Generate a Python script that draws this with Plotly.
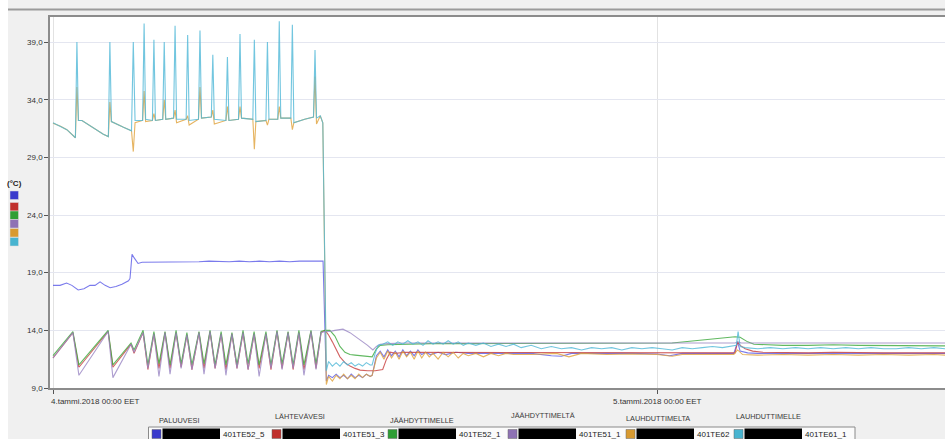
import plotly.graph_objects as go

# ---------------- data (time in hours after 4.tammi.2018 00:00 EET, values in °C) ----------------
x_tick_vals = [0, 24]
x_tick_text = ["4.tammi.2018 00:00 EET", "5.tammi.2018 00:00 EET"]
y_tick_vals = [9, 14, 19, 24, 29, 34, 39]

series_names = ["PALUUVESI", "LÄHTEVÄVESI", "JÄÄHDYTTIMELLE", "JÄÄHDYTTIMELTÄ", "LAUHDUTTIMELTA", "LAUHDUTTIMELLE"]
series_codes = ["401TE52_5", "401TE51_3", "401TE52_1", "401TE51_1", "401TE62", "401TE61_1"]

# shared time base of the sawtooth period (before the big drop)
t_saw = [0, 0.79, 1.03, 2.19, 2.38, 3.10, 3.22, 3.58, 3.77, 4.01, 4.21, 4.45, 4.65, 4.89, 5.09, 5.32,
         5.52, 5.80, 6.00, 6.24, 6.44, 6.68, 6.87, 7.11, 7.31, 7.55, 7.75, 7.99, 8.19, 8.46, 8.66, 8.90,
         9.10, 9.34, 9.54, 9.77, 9.97, 10.25, 10.45, 10.65]
green_saw = [11.8, 13.9, 11.0, 14.0, 11.0, 12.9, 12.3, 14.0, 11.0, 13.9, 11.1, 13.9, 11.0, 14.0, 11.1, 13.8,
             11.0, 13.9, 11.1, 14.0, 11.0, 13.9, 11.0, 13.8, 11.0, 14.0, 11.1, 13.9, 11.0, 13.9, 11.0, 14.0,
             11.1, 13.9, 11.0, 14.0, 11.0, 14.0, 11.1, 13.9]
red_saw = [11.6, 13.8, 10.8, 13.9, 10.8, 12.8, 12.0, 13.8, 10.6, 13.7, 10.7, 13.8, 10.7, 13.8, 10.8, 13.6,
           10.6, 13.8, 10.7, 13.9, 10.7, 13.7, 10.6, 13.7, 10.7, 13.8, 10.6, 13.7, 10.7, 13.7, 10.6, 13.9,
           10.7, 13.8, 10.6, 13.8, 10.6, 13.9, 10.7, 13.8]
purple_saw = [11.6, 13.8, 10.1, 13.9, 9.9, 12.8, 12.1, 13.8, 10.7, 13.7, 10.0, 13.8, 10.2, 13.8, 10.7, 13.6,
              10.6, 13.8, 10.2, 13.9, 10.7, 13.7, 10.1, 13.7, 10.7, 13.8, 10.6, 13.7, 10.0, 13.7, 10.7, 13.9,
              10.6, 13.8, 10.7, 13.8, 10.1, 13.9, 10.6, 13.8]

# after the drop
red_post_t = [10.81, 10.95, 11.1, 11.25, 11.4, 11.6, 11.8, 12.0, 12.2, 12.5, 12.8, 13.1, 13.25, 13.4, 13.6,
              14.0, 15.0, 16.0, 17.0, 18.0, 19.0, 20.0, 21.0, 22.0, 23.0, 24.0, 25.0, 26.0, 27.1, 27.2,
              27.3, 27.5, 27.8, 28.2, 29.0, 30.0, 31.0, 32.0, 33.0, 34.0, 35.0, 35.44]
red_post_v = [14.0, 13.6, 13.0, 12.3, 11.7, 11.2, 10.9, 10.7, 10.55, 10.5, 10.5, 10.6, 11.5, 12.1, 12.0,
              12.1, 12.1, 12.05, 12.1, 12.1, 12.05, 12.1, 12.05, 12.1, 12.05, 12.05, 12.05, 12.05, 12.05, 13.0,
              12.7, 12.4, 12.2, 12.1, 12.05, 12.05, 12.1, 12.05, 12.05, 12.05, 12.05, 12.05]

green_post_t = [10.81, 11.0, 11.2, 11.4, 11.6, 11.8, 12.0, 12.3, 12.6, 12.68, 12.85, 13.0, 13.3, 14.0, 15.0,
                16.0, 17.0, 18.0, 19.0, 20.0, 21.0, 22.0, 23.0, 24.0, 24.6, 25.3, 26.0, 26.6, 27.1, 27.3,
                27.6, 27.85, 28.5, 29.0, 30.0, 31.0, 32.0, 33.0, 34.0, 35.0, 35.44]
green_post_v = [14.0, 14.0, 13.5, 12.6, 12.1, 11.9, 11.85, 11.8, 11.7, 11.7, 12.4, 12.7, 12.75, 12.8, 12.85,
                12.85, 12.85, 12.9, 12.9, 12.85, 12.9, 12.9, 12.9, 12.9, 12.9, 13.05, 13.2, 13.35, 13.45, 13.4,
                13.0, 12.8, 12.75, 12.7, 12.7, 12.75, 12.7, 12.7, 12.65, 12.65, 12.65]

purple_post_t = [10.81, 11.0, 11.2, 11.52, 11.8, 12.0, 12.3, 12.5, 12.71, 12.85, 13.0, 13.3, 14.0, 16.0,
                 18.0, 20.0, 22.0, 24.0, 26.0, 27.1, 27.2, 27.35, 28.0, 30.0, 32.0, 34.0, 35.44]
purple_post_v = [13.9, 13.9, 14.0, 14.1, 13.8, 13.5, 13.0, 12.7, 12.3, 12.6, 12.8, 12.85, 12.9, 12.9,
                 12.9, 12.9, 12.9, 12.9, 12.9, 12.9, 13.0, 12.9, 12.9, 12.9, 12.9, 12.9, 12.9]

blue_t = [0, 0.28, 0.54, 0.75, 1.0, 1.23, 1.47, 1.67, 1.87, 2.07, 2.27, 2.5, 2.74, 3.0, 3.06, 3.14, 3.22,
          3.38, 3.54, 3.7, 4.2, 4.6, 5.0, 5.4, 5.8, 6.2, 6.6, 7.0, 7.4, 7.8, 8.2, 8.6, 9.0, 9.4, 9.8, 10.2,
          10.6, 10.73, 10.86, 10.95, 11.1, 11.25, 11.4, 11.55, 11.7, 11.85, 12.0, 12.15, 12.3, 12.45, 12.6,
          12.68, 12.85, 13.0, 13.15, 13.3, 13.45, 13.6, 13.75, 13.9, 14.05, 14.2, 14.35, 14.5, 14.65, 14.8,
          15.0, 15.3, 15.6, 16.0, 16.5, 17.0, 18.0, 19.0, 19.8, 20.2, 20.6, 21.0, 22.0, 23.0, 24.0, 24.5,
          25.0, 26.0, 27.05, 27.2, 27.3, 27.6, 28.0, 29.0, 30.0, 31.0, 32.0, 33.0, 34.0, 35.0, 35.44]
blue_v = [17.9, 17.9, 18.1, 17.9, 17.5, 17.6, 17.9, 17.9, 18.2, 17.9, 17.7, 17.8, 18.0, 18.3, 18.5, 20.6, 20.3,
          19.8, 19.9, 19.9, 19.9, 19.95, 19.9, 19.95, 19.95, 20.0, 19.95, 19.95, 20.0, 19.95, 20.0, 19.95, 20.0,
          19.95, 20.0, 20.0, 20.0, 20.0, 9.6, 10.1, 9.9, 10.2, 9.9, 10.1, 9.8, 10.2, 9.9, 10.1, 9.9, 10.2, 10.0,
          10.1, 11.8, 12.2, 11.7, 12.3, 11.8, 12.2, 11.7, 12.3, 11.8, 12.2, 11.8, 12.3, 11.9, 12.1, 11.9, 12.1,
          11.9, 12.1, 12.0, 12.0, 12.05, 12.0, 11.8, 11.75, 12.0, 12.0, 12.05, 12.0, 11.95, 11.8, 12.0, 12.0,
          12.0, 13.0, 12.2, 12.05, 12.0, 12.0, 12.0, 12.05, 12.0, 12.0, 12.0, 12.0, 12.0]

# condenser pair: shared time base before the drop
t_cond = [0, 0.3, 0.55, 0.75, 0.89, 0.95, 1.01, 1.15, 1.35, 1.7, 2.0, 2.2, 2.26, 2.32, 2.5, 2.8, 3.12, 3.19,
          3.26, 3.56, 3.62, 3.68, 3.95, 4.01, 4.07, 4.36, 4.42, 4.48, 4.79, 4.85, 4.91, 5.29, 5.35, 5.41, 5.78,
          5.84, 5.90, 6.29, 6.35, 6.41, 6.87, 6.93, 6.99, 7.37, 7.43, 7.49, 7.94, 8.00, 8.06, 8.46, 8.52, 8.58,
          8.93, 8.99, 9.05, 9.45, 9.51, 9.57, 10.0, 10.35, 10.41, 10.47, 10.62, 10.72]
cyan_pre = [32.0, 31.7, 31.4, 31.0, 30.7, 39.0, 32.2, 32.2, 31.9, 31.4, 31.0, 30.8, 39.0, 32.1, 31.9, 31.6,
            31.3, 39.0, 32.2, 32.2, 40.6, 32.3, 32.2, 39.2, 32.2, 32.3, 39.0, 32.3, 32.4, 40.4, 32.3, 32.3,
            39.6, 32.2, 32.3, 40.0, 32.4, 32.5, 37.9, 32.3, 32.2, 37.7, 32.2, 32.3, 39.7, 32.4, 32.3, 39.2,
            32.1, 32.2, 39.0, 32.3, 32.3, 40.8, 32.4, 32.4, 40.5, 32.0, 32.3, 32.5, 38.3, 32.4, 32.6, 32.0]
orange_pre = [31.95, 31.7, 31.4, 31.0, 30.7, 35.1, 32.2, 32.2, 31.9, 31.4, 31.0, 30.8, 33.8, 32.1, 31.9, 31.6,
              31.3, 29.5, 32.0, 32.2, 34.75, 32.1, 32.2, 32.8, 32.2, 32.3, 34.0, 32.3, 32.4, 33.1, 32.0, 32.3,
              32.6, 31.8, 32.3, 35.1, 32.4, 32.5, 33.1, 31.9, 32.2, 33.4, 32.2, 32.3, 33.4, 32.4, 32.3, 29.7,
              32.1, 32.2, 31.8, 32.3, 32.3, 33.4, 32.4, 32.4, 31.4, 32.0, 32.3, 32.5, 36.0, 31.9, 32.6, 32.0]

cyan_post_t = [10.86, 10.95, 11.1, 11.25, 11.4, 11.55, 11.7, 11.85, 12.0, 12.15, 12.3, 12.45, 12.6, 12.68,
               12.8, 12.92, 13.1, 13.3, 13.5, 13.7, 13.9, 14.1, 14.3, 14.5, 14.7, 14.9, 15.1, 15.3, 15.5, 15.7,
               15.9, 16.1, 16.3, 16.5, 16.8, 17.1, 17.4, 17.7, 18.0, 18.3, 18.6, 19.0, 19.4, 19.8, 20.2, 20.6,
               21.0, 21.4, 21.8, 22.2, 22.6, 23.0, 23.4, 23.8, 24.2, 24.6, 25.0, 25.4, 25.8, 26.2, 26.6, 27.0,
               27.15, 27.22, 27.3, 27.5, 28.0, 28.5, 29.0, 29.5, 30.0, 30.5, 31.0, 31.5, 32.0, 32.5, 33.0, 33.5,
               34.0, 34.5, 35.0, 35.44]
cyan_post_v = [10.5, 11.3, 10.9, 11.2, 10.9, 11.3, 11.0, 11.2, 10.9, 11.1, 10.9, 11.2, 11.0, 11.0,
               12.0, 12.7, 12.8, 13.0, 12.7, 13.0, 12.8, 13.1, 12.8, 13.0, 12.7, 13.1, 12.8, 13.0, 12.8, 13.1,
               12.8, 13.0, 12.7, 12.9, 12.7, 12.9, 12.6, 12.8, 12.6, 12.8, 12.5, 12.7, 12.4, 12.6, 12.4, 12.5,
               12.3, 12.5, 12.4, 12.5, 12.3, 12.5, 12.4, 12.5, 12.4, 12.3, 12.5, 12.4, 12.5, 12.6, 12.5, 12.6,
               12.7, 13.9, 12.6, 12.5, 12.4, 12.5, 12.4, 12.5, 12.4, 12.5, 12.4, 12.5, 12.4, 12.5, 12.4, 12.4,
               12.5, 12.4, 12.5, 12.4]

orange_post_t = [10.86, 10.95, 11.1, 11.25, 11.4, 11.55, 11.7, 11.85, 12.0, 12.15, 12.3, 12.45, 12.6, 12.68,
                 12.85, 13.0, 13.15, 13.3, 13.45, 13.6, 13.75, 13.9, 14.05, 14.2, 14.35, 14.5, 14.65, 14.8,
                 14.95, 15.1, 15.3, 15.5, 15.7, 15.9, 16.1, 16.3, 16.5, 16.8, 17.1, 17.4, 17.7, 18.0, 18.3,
                 19.0, 20.0, 20.5, 21.0, 22.0, 23.0, 24.0, 24.6, 25.0, 26.0, 27.05, 27.2, 27.4, 28.0, 29.0,
                 30.0, 31.0, 32.0, 33.0, 34.0, 35.0, 35.44]
orange_post_v = [9.3, 10.0, 9.6, 10.1, 9.8, 10.2, 9.8, 10.1, 9.8, 10.2, 9.9, 10.2, 10.0, 10.1,
                 11.6, 12.1, 11.5, 12.2, 11.6, 12.1, 11.5, 12.2, 11.7, 12.1, 11.5, 12.2, 11.6, 12.1,
                 11.7, 12.0, 11.5, 12.1, 11.7, 12.1, 11.6, 12.0, 11.8, 12.0, 11.7, 12.0, 11.8, 12.0, 11.9,
                 11.9, 12.0, 11.7, 12.0, 11.9, 11.95, 11.9, 11.75, 11.9, 11.9, 11.9, 12.3, 11.9, 11.85, 11.9,
                 11.85, 11.9, 11.85, 11.9, 11.85, 11.9, 11.85]

# ---------------- style ----------------
W, H = 945, 439
ML, MR, MT, MB = 50, 0, 17, 51
PW, PH = W - ML - MR, H - MT - MB

def px(x):
    return (x - ML) / PW

def py(y):
    return (H - MB - y) / PH

line_colors = ["#5a5ae8", "#c83c3c", "#3aa83a", "#9a86c4", "#e0a23a", "#4fb8d8"]
swatch_colors = ["#3b3bcc", "#c0302c", "#2e9e34", "#8e72b4", "#d89a30", "#48b4d0"]

series = [
    (blue_t, blue_v),
    (t_saw + red_post_t, red_saw + red_post_v),
    (t_saw + green_post_t, green_saw + green_post_v),
    (t_saw + purple_post_t, purple_saw + purple_post_v),
    (t_cond + orange_post_t, orange_pre + orange_post_v),
    (t_cond + cyan_post_t, cyan_pre + cyan_post_v),
]

fig = go.Figure()
for i, (t, v) in enumerate(series):
    fig.add_trace(go.Scatter(
        x=t, y=v, mode="lines", name=series_names[i],
        line=dict(color=line_colors[i], width=1.1), opacity=0.8,
        hoverinfo="skip",
    ))

FONT = "Liberation Sans, Arial, sans-serif"
TXT = "#333333"

fig.update_layout(
    width=W, height=H,
    margin=dict(l=ML, r=MR, t=MT, b=MB, pad=0),
    paper_bgcolor="#f0f0f0",
    plot_bgcolor="#ffffff",
    showlegend=False,
    separators=",.",
    font=dict(family=FONT, size=8, color=TXT),
    xaxis=dict(
        range=[-0.119, 35.44], tickvals=x_tick_vals, showticklabels=False,
        ticks="outside", ticklen=4, tickcolor="#555555",
        showline=True, linecolor="#8c8c8c", linewidth=1.5, mirror=True,
        showgrid=True, gridcolor="#e2e2e2", zeroline=False,
    ),
    yaxis=dict(
        range=[9, 41.17], tickvals=y_tick_vals, tickformat=".1f",
        ticks="outside", ticklen=4, tickcolor="#555555",
        showline=True, linecolor="#8c8c8c", linewidth=1.5, mirror=False,
        showgrid=True, gridcolor="#e4e6f0", zeroline=False,
        tickfont=dict(family=FONT, size=8, color=TXT),
    ),
)

shapes = []
annots = []

# white strip at far left and top separator line
shapes.append(dict(type="rect", xref="paper", yref="paper", x0=px(0), x1=px(8), y0=py(H + 5), y1=py(-5),
                   fillcolor="#ffffff", line=dict(width=0), layer="below"))
shapes.append(dict(type="line", xref="paper", yref="paper", x0=px(8), x1=px(W + 2), y0=py(9.5), y1=py(9.5),
                   line=dict(color="#9a9a9a", width=2)))

# x tick labels
annots.append(dict(x=x_tick_vals[0], xref="x", y=py(401), yref="paper", text=x_tick_text[0],
                   xanchor="left", yanchor="middle", xshift=-4, showarrow=False,
                   font=dict(family=FONT, size=8, color=TXT)))
annots.append(dict(x=x_tick_vals[1], xref="x", y=py(401), yref="paper", text=x_tick_text[1],
                   xanchor="center", yanchor="middle", showarrow=False,
                   font=dict(family=FONT, size=8, color=TXT)))

# unit label and side swatches
annots.append(dict(x=px(5), xref="paper", y=py(183), yref="paper", text="<b>(°C)</b>",
                   xanchor="left", yanchor="middle", showarrow=False,
                   font=dict(family=FONT, size=8, color="#222222")))
side_tops = [191, 202.5, 211, 219.5, 228.5, 237.5]
for i, c in enumerate(swatch_colors):
    shapes.append(dict(type="rect", xref="paper", yref="paper", x0=px(10), x1=px(18.5),
                       y0=py(side_tops[i] + 8.5), y1=py(side_tops[i]),
                       fillcolor=c, line=dict(color="#dddddd", width=0.5)))

# bottom legend box
shapes.append(dict(type="rect", xref="paper", yref="paper", x0=px(148.5), x1=px(855), y0=py(H + 10), y1=py(427),
                   fillcolor="#fbfbfb", line=dict(color="#8a8a8a", width=1)))
sq_x = [152, 272, 388, 508, 626, 734]
head_cx = [178.5, 300, 421.7, 543, 658, 768]
head_y = [420, 416.7, 420, 415.7, 418.3, 416.7]
for i in range(6):
    annots.append(dict(x=px(head_cx[i]), xref="paper", y=py(head_y[i]), yref="paper", text=series_names[i],
                       xanchor="center", yanchor="middle", showarrow=False,
                       font=dict(family=FONT, size=7.3, color="#3a3a3a")))
    shapes.append(dict(type="rect", xref="paper", yref="paper", x0=px(sq_x[i]), x1=px(sq_x[i] + 9),
                       y0=py(438.5), y1=py(429.5), fillcolor=swatch_colors[i], line=dict(color="#666666", width=0.5)))
    shapes.append(dict(type="rect", xref="paper", yref="paper", x0=px(sq_x[i] + 10.5), x1=px(sq_x[i] + 68),
                       y0=py(H + 5), y1=py(428.5), fillcolor="#000000", line=dict(width=0)))
    annots.append(dict(x=px(sq_x[i] + 68.5), xref="paper", y=py(434.5), yref="paper", text=series_codes[i],
                       xanchor="left", yanchor="middle", showarrow=False,
                       font=dict(family=FONT, size=8, color="#222222")))

fig.update_layout(shapes=shapes, annotations=annots)
fig.write_html(
    "out.html",
    config={"displayModeBar": False},
    post_script="document.body.style.margin='0px';document.body.style.overflow='hidden';",
)
